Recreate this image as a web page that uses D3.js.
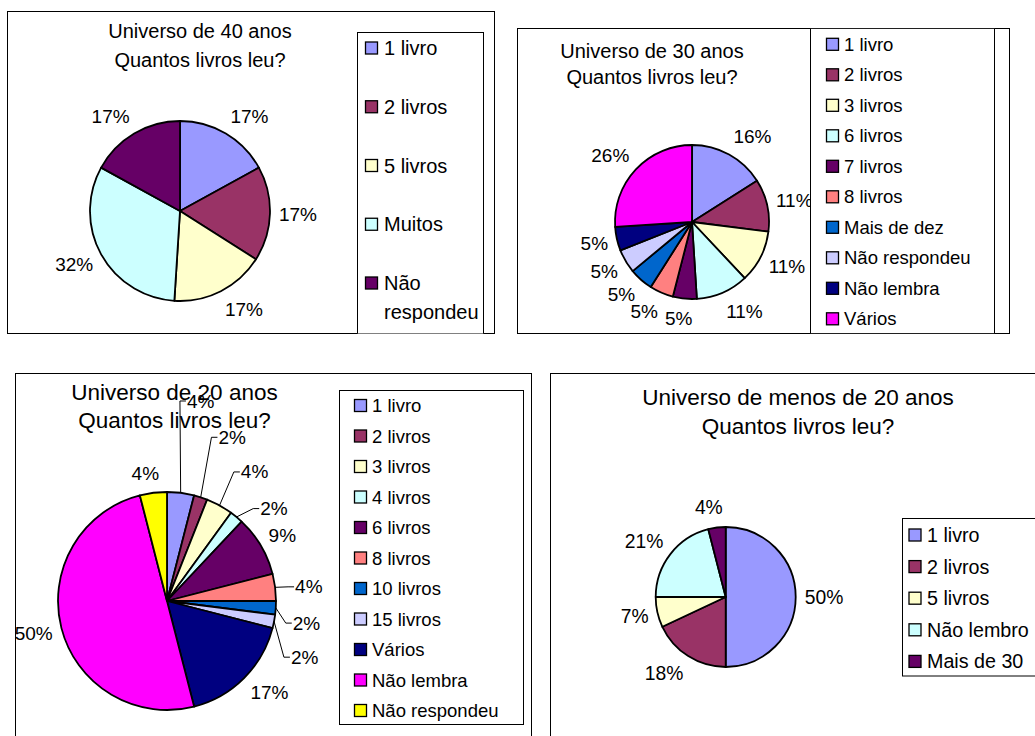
<!DOCTYPE html>
<html><head><meta charset="utf-8">
<script src="https://cdn.jsdelivr.net/npm/d3@7"></script>
<style>
body{margin:0;background:#fff}
svg{display:block}
text{font-family:"Liberation Sans",Arial,sans-serif;fill:#000}
</style>
</head><body>
<svg id="c" width="1035" height="736"></svg>
<script>
// ---------- data ----------
const titleLine2 = "Quantos livros leu?";

const title40 = "Universo de 40 anos";
const cat40 = ["1 livro","2 livros","5 livros","Muitos","Não respondeu"];
const val40 = [17,17,17,32,17];

const title30 = "Universo de 30 anos";
const cat30 = ["1 livro","2 livros","3 livros","6 livros","7 livros","8 livros","Mais de dez","Não respondeu","Não lembra","Vários"];
const val30 = [16,11,11,11,5,5,5,5,5,26];

const title20 = "Universo de 20 anos";
const cat20 = ["1 livro","2 livros","3 livros","4 livros","6 livros","8 livros","10 livros","15 livros","Vários","Não lembra","Não respondeu"];
const val20 = [4,2,4,2,9,4,2,2,17,50,4];

const titleU20 = "Universo de menos de 20 anos";
const catU20 = ["1 livro","2 livros","5 livros","Não lembro","Mais de 30"];
const valU20 = [50,18,7,21,4];

// ---------- styles ----------
const col40  = ["#9999FF","#993366","#FFFFCC","#CCFFFF","#660066"];
const col30  = ["#9999FF","#993366","#FFFFCC","#CCFFFF","#660066","#FF8080","#0066CC","#CCCCFF","#000080","#FF00FF"];
const col20  = ["#9999FF","#993366","#FFFFCC","#CCFFFF","#660066","#FF8080","#0066CC","#CCCCFF","#000080","#FF00FF","#FFFF00"];
const colU20 = ["#9999FF","#993366","#FFFFCC","#CCFFFF","#660066"];

// label drags (layout only) for the crowded 20-anos chart
const drag20 = [[12,-72],[15,-41],[17,-16],[18,7],null,[11,2],[8,14],[8,32],null,null,null];

const panels = [
  {title:title40, cats:cat40, vals:val40, cols:col40,
   box:{x:7.5,y:11.5,w:487,h:322}, cx:180, cy:211, r:90,
   tFs:20, tX:200, tY1:38, tY2:67, lFs:19,
   leg:{x:357.5,y:32.5,w:126,h:320, y0:48, step:58.75, sx:365, tx:384, fs:20, wrap:true}},
  {title:title30, cats:cat30, vals:val30, cols:col30,
   box:{x:517.5,y:28.5,w:492,h:305}, cx:692, cy:222, r:77,
   tFs:20, tX:652, tY1:58, tY2:84, lFs:19,
   leg:{x:810.5,y:28.5,w:184,h:305, y0:44.3, step:30.5, sx:826, tx:844, fs:18.5}},
  {title:title20, cats:cat20, vals:val20, cols:col20, drag:drag20,
   box:{x:15.5,y:373.5,w:516,h:380}, cx:167, cy:601, r:109,
   tFs:22.5, tX:174.5, tY1:400, tY2:428, lFs:19,
   leg:{x:339.5,y:390.5,w:184,h:334, y0:405.5, step:30.5, sx:354, tx:372, fs:18.5}},
  {title:titleU20, cats:catU20, vals:valU20, cols:colU20,
   box:{x:550.5,y:373.5,w:500,h:380}, cx:725.7, cy:597, r:70,
   tFs:22.5, tX:798, tY1:405, tY2:434, lFs:19.3,
   leg:{x:902.5,y:518.5,w:200,h:157.5, y0:535, step:31.6, sx:908.5, tx:927, fs:19.7}}
];

const svg = d3.select("#c");
const defs = svg.append("defs");

panels.forEach((p, pi) => {
  const b = p.box;
  defs.append("clipPath").attr("id","clip"+pi)
    .append("rect").attr("x",b.x).attr("y",b.y).attr("width",b.w).attr("height",b.h);

  svg.append("rect").attr("x",b.x).attr("y",b.y).attr("width",b.w).attr("height",b.h)
    .attr("fill","#fff").attr("stroke","#000").attr("stroke-width",1);

  const g = svg.append("g").attr("clip-path","url(#clip"+pi+")");

  // title
  g.append("text").attr("x",p.tX).attr("y",p.tY1).attr("text-anchor","middle")
    .attr("font-size",p.tFs).text(p.title);
  g.append("text").attr("x",p.tX).attr("y",p.tY2).attr("text-anchor","middle")
    .attr("font-size",p.tFs).text(titleLine2);

  // pie
  const data = p.cats.map((c,i)=>({cat:c, v:p.vals[i], col:p.cols[i], i}));
  const pie = d3.pie().sort(null).value(d=>d.v);
  const arcs = pie(data);
  const arc = d3.arc().innerRadius(0).outerRadius(p.r);
  const pg = g.append("g").attr("transform",`translate(${p.cx},${p.cy})`);
  pg.selectAll("path.slice").data(arcs).join("path").attr("class","slice")
    .attr("d",arc).attr("fill",d=>d.data.col)
    .attr("stroke","#000").attr("stroke-width",1.8).attr("stroke-linejoin","round");

  // labels
  const R = p.r + 9;
  const hh = 0.58 * p.lFs;
  arcs.forEach(a => {
    const ang = (a.startAngle + a.endAngle)/2;
    const s = Math.sin(ang), c = Math.cos(ang);
    const t = pg.append("text").attr("font-size",p.lFs).attr("text-anchor","middle")
      .attr("dominant-baseline","central").text(a.data.v + "%");
    const w = t.node().getComputedTextLength();
    const k = Math.max(-1, Math.min(1, 4*s));
    let lx = R*s + k*w/2;
    let ly = -R*c - c*hh;
    const dr = p.drag ? p.drag[a.data.i] : null;
    if (dr) {
      lx += dr[0]; ly += dr[1];
      const ex = p.r*s, ey = -p.r*c;
      const left = lx - w/2 - 1;
      pg.insert("path","text").attr("fill","none").attr("stroke","#000").attr("stroke-width",1)
        .attr("d",`M${ex},${ey}L${left-6},${ly}L${left},${ly}`);
    }
    t.attr("x",lx).attr("y",ly);
  });

  // legend
  const L = p.leg;
  g.append("rect").attr("x",L.x).attr("y",L.y).attr("width",L.w).attr("height",L.h)
    .attr("fill","#fff").attr("stroke","#000").attr("stroke-width",1);
  data.forEach((d,i) => {
    const y = L.y0 + i*L.step;
    g.append("rect").attr("x",L.sx+0.5).attr("y",y-6).attr("width",12).attr("height",12)
      .attr("fill",d.col).attr("stroke","#000").attr("stroke-width",1.3);
    const t = g.append("text").attr("x",L.tx).attr("y",y).attr("font-size",L.fs)
      .attr("dominant-baseline","central").text(d.cat);
    if (L.wrap && t.node().getComputedTextLength() > (L.x + L.w - L.tx)) {
      const words = d.cat.split(" ");
      t.text(words[0]);
      g.append("text").attr("x",L.tx).attr("y",y + L.fs*1.45).attr("font-size",L.fs)
        .attr("dominant-baseline","central").text(words.slice(1).join(" "));
    }
  });
});
</script>
</body></html>
